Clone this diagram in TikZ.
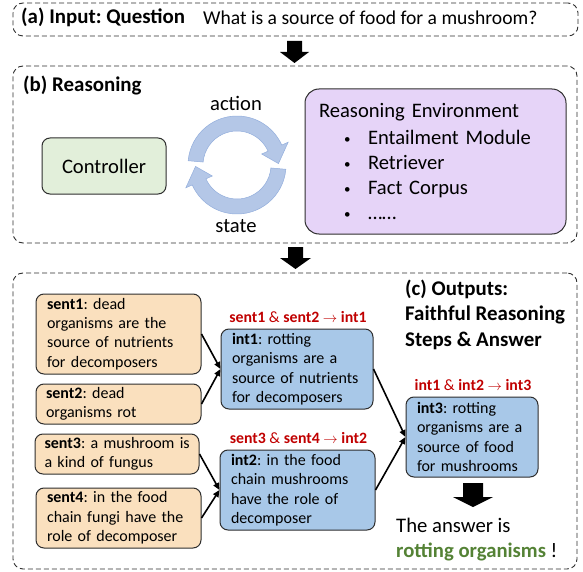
\documentclass[tikz,border=0pt]{standalone}
\usepackage{fontspec}
\setmainfont{Carlito}
\usepackage{tikz}
\usetikzlibrary{arrows.meta}
\frenchspacing

\definecolor{sentfill}{HTML}{FAE0BE}
\definecolor{intfill}{HTML}{A8C8E8}
\definecolor{ctrlfill}{HTML}{E2EFDA}
\definecolor{envfill}{HTML}{E6D4F8}
\definecolor{cycfill}{HTML}{B4C7E7}
\definecolor{cycline}{HTML}{93AEDC}
\definecolor{steplbl}{HTML}{C00000}
\definecolor{ansgreen}{HTML}{548235}
\definecolor{edge}{HTML}{2E2E2E}

\begin{document}
\begin{tikzpicture}[x=1pt, y=-1pt,
  panel/.style={draw=edge, dashed, dash pattern=on 5pt off 3pt, line width=0.9pt, rounded corners=10pt},
  ttl/.style={font=\fontsize{20.9}{25.5}\selectfont\bfseries, align=left, anchor=west, inner sep=0pt},
  txt/.style={font=\fontsize{20.7}{25}\selectfont, align=left, anchor=west, inner sep=0pt},
  box/.style={draw=edge, line width=1pt, rounded corners=8pt, align=left, inner xsep=11pt, inner ysep=0pt, font=\fontsize{16}{19.4}\selectfont},
  sent/.style={box, fill=sentfill},
  int/.style={box, fill=intfill},
  lbl/.style={font=\fontsize{15.8}{18}\selectfont, text=steplbl, inner sep=0pt},
  arr/.style={-{Triangle[length=7pt,width=6pt]}, line width=1.6pt},
  cyc/.style={fill=cycfill, draw=cycline, line width=0.5pt}
]
\useasboundingbox (0,0) rectangle (583,572);

% (a) input
\node[panel, minimum width=565pt, minimum height=33pt] (pa) at (295.5,19.5) {};
\node[ttl] (ta) at (21,17.5) {(a) Input: Question};
\node[txt, font=\fontsize{19.6}{24}\selectfont] (q) at (203,18) {What is a source of food for a mushroom?};
\fill (287,41) -- (302,41) -- (302,52) -- (309,52) -- (294.5,63) -- (280,52) -- (287,52) -- cycle;

% (b) reasoning
\node[panel, minimum width=564pt, minimum height=177pt] (pb) at (295,154.5) {};
\node[ttl] (tb) at (23,86) {(b) Reasoning};
\node[box, fill=ctrlfill, minimum width=124pt, minimum height=56pt, align=center, font=\fontsize{20.6}{25}\selectfont] (ctrl) at (104,166) {Controller};
\node[font=\fontsize{20.6}{25}\selectfont, inner sep=0pt] (act) at (236,103) {action};
\node[font=\fontsize{20.6}{25}\selectfont, inner sep=0pt] (st) at (236,226) {state};
\begin{scope}[shift={(237,165)}]
  \draw[cyc] (185:49) arc[start angle=185, end angle=336, radius=49] -- (336:56) -- (358:41.5)
    -- (336:27) -- (336:34) arc[start angle=336, end angle=185, radius=34] -- cycle;
  \draw[cyc] (5:49) arc[start angle=5, end angle=156, radius=49] -- (156:56) -- (178:41.5)
    -- (156:27) -- (156:34) arc[start angle=156, end angle=5, radius=34] -- cycle;
\end{scope}
\node[box, fill=envfill, rounded corners=14pt, minimum width=261pt, minimum height=145pt, text width=233pt, inner xsep=14pt, font=\fontsize{20.6}{25}\selectfont] (env) at (435.5,161.5)
  {Reasoning Environment\\[2pt]
   \hspace*{25pt}\makebox[24pt][l]{\raisebox{1pt}{\fontsize{13}{13}\selectfont\textbullet}}Entailment Module\\
   \hspace*{25pt}\makebox[24pt][l]{\raisebox{1pt}{\fontsize{13}{13}\selectfont\textbullet}}Retriever\\
   \hspace*{25pt}\makebox[24pt][l]{\raisebox{1pt}{\fontsize{13}{13}\selectfont\textbullet}}Fact Corpus\\
   \hspace*{25pt}\makebox[24pt][l]{\raisebox{1pt}{\fontsize{13}{13}\selectfont\textbullet}}\textellipsis\textellipsis};
\fill (288,247) -- (303,247) -- (303,258) -- (311,258) -- (295.5,269) -- (280,258) -- (288,258) -- cycle;

% (c) outputs
\node[panel, minimum width=564pt, minimum height=296pt] (pc) at (295,421) {};
\node[sent, text width=143pt, minimum height=80pt] (s1) at (118.5,334) {\textbf{sent1}: dead\\organisms are the\\source of nutrients\\for decomposers};
\node[sent, text width=145pt, minimum height=40pt, inner xsep=10pt] (s2) at (118.5,404) {\textbf{sent2}: dead\\organisms rot};
\node[sent, text width=148pt, minimum height=40pt, inner xsep=8pt] (s3) at (117,454) {\hspace*{1.5pt}\textbf{sent3}: a mushroom is\\\hspace*{1.5pt}a kind of fungus};
\node[sent, text width=143pt, minimum height=60pt] (s4) at (118.5,518) {\textbf{sent4}: in the food\\chain fungi have the\\role of decomposer};
\node[int, text width=130pt, minimum height=80pt] (i1) at (297,369) {\textbf{int1}: rotting\\organisms are a\\source of nutrients\\for decomposers};
\node[int, text width=133pt, minimum height=80pt] (i2) at (297.5,490) {\textbf{int2}: in the food\\chain mushrooms\\have the role of\\decomposer};
\node[int, text width=110pt, minimum height=80pt] (i3) at (472,437) {\textbf{int3}: rotting\\organisms are a\\source of food\\for mushrooms};
\node[lbl] (l1) at (298,317.5) {\textbf{sent1} \& \textbf{sent2} $\rightarrow$ \textbf{int1}};
\node[lbl] (l2) at (298.5,438.5) {\textbf{sent3} \& \textbf{sent4} $\rightarrow$ \textbf{int2}};
\node[lbl] (l3) at (473,385.5) {\textbf{int1} \& \textbf{int2} $\rightarrow$ \textbf{int3}};
\draw[arr] (s1.east) -- (i1.west);
\draw[arr] (s2.east) -- (i1.west);
\draw[arr] (s3.east) -- (i2.west);
\draw[arr] (s4.east) -- (i2.west);
\draw[arr] (i1.east) -- (i3.west);
\draw[arr] (i2.east) -- (i3.west);
\node[ttl] (tc) at (405,314.5) {(c) Outputs:\\Faithful Reasoning\\Steps \& Answer};
\fill (463,483) -- (483,483) -- (483,497) -- (493,497) -- (473,507) -- (453,497) -- (463,497) -- cycle;
\node[txt] (ans) at (396,540) {The answer is\\\textcolor{ansgreen}{\textbf{rotting organisms}} !};
\end{tikzpicture}
\end{document}
